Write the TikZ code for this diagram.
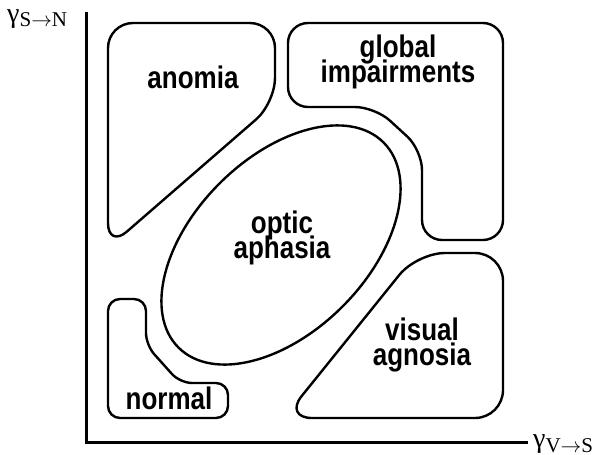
\documentclass[tikz,border=0pt]{standalone}
\usepackage{fontspec}
\setmainfont{Liberation Sans}
\newfontfamily\serifgam{Liberation Serif}
\newcommand\lblfont{\fontsize{26}{21.5}\selectfont\bfseries\lineskiplimit=-30pt\relax\lineskip=0pt\relax}
\begin{document}
\begin{tikzpicture}[x=1pt,y=-1pt,
  region/.style={draw=black,line width=2.4pt,line join=round},
  axis/.style={draw=black,line width=3pt},
  lbl/.style={font=\lblfont,align=center,inner sep=0pt},
  axlbl/.style={inner sep=0pt,anchor=base west}]
\useasboundingbox (0,0) rectangle (598,455);
% axes
\coordinate (org) at (86,442);
\coordinate (ytop) at (86,12);
\coordinate (xend) at (528,442);
\draw[axis] (ytop) -- (org) -- (xend);
\node[axlbl] (ylab) at (7,22) {\serifgam\fontsize{28}{28}\selectfont γ\raisebox{-5pt}{\fontsize{21}{21}\selectfont S\ensuremath{\rightarrow}N}};
\node[axlbl] (xlab) at (533,447) {\serifgam\fontsize{28}{28}\selectfont γ\raisebox{-5pt}{\fontsize{21}{21}\selectfont V\ensuremath{\rightarrow}S}};
% anomia
\draw[region,rounded corners=25pt] (108,23) -- (275,23) -- (275,103) -- (108,248) -- cycle;
% global impairments
\draw[region,rounded corners=20pt] (288,23) -- (503,23) -- (503,240) -- (422,240) -- (422,150) -- (375,107) -- (288,107) -- cycle;
% optic aphasia
\draw[region] (281,245) ellipse [x radius=145pt, y radius=87pt, rotate=45];
% normal
\draw[region,rounded corners=12pt] (108,299) -- (146,299) -- (146,345) -- (180,383) -- (228,383) -- (228,418) -- (108,418) -- cycle;
% visual agnosia
\draw[region,rounded corners=28pt] (284,418) -- (417,253) -- (503,253) -- (503,418) -- cycle;
% labels
\begin{scope}[shift={(193,88)},yscale=1.2,transform shape]
\node[lbl,anchor=base] (anomia) at (0,0) {anomia};
\end{scope}
\begin{scope}[shift={(398,62)},yscale=1.2,transform shape]
\node[lbl] (global) at (0,0) {global\\impairments};
\end{scope}
\begin{scope}[shift={(282,238)},yscale=1.2,transform shape]
\node[lbl] (optic) at (0,0) {optic\\aphasia};
\end{scope}
\begin{scope}[shift={(422,345)},yscale=1.2,transform shape]
\node[lbl] (visual) at (0,0) {visual\\agnosia};
\end{scope}
\begin{scope}[shift={(169,409)},yscale=1.2,transform shape]
\node[lbl,anchor=base] (normal) at (0,0) {normal};
\end{scope}
\end{tikzpicture}
\end{document}
